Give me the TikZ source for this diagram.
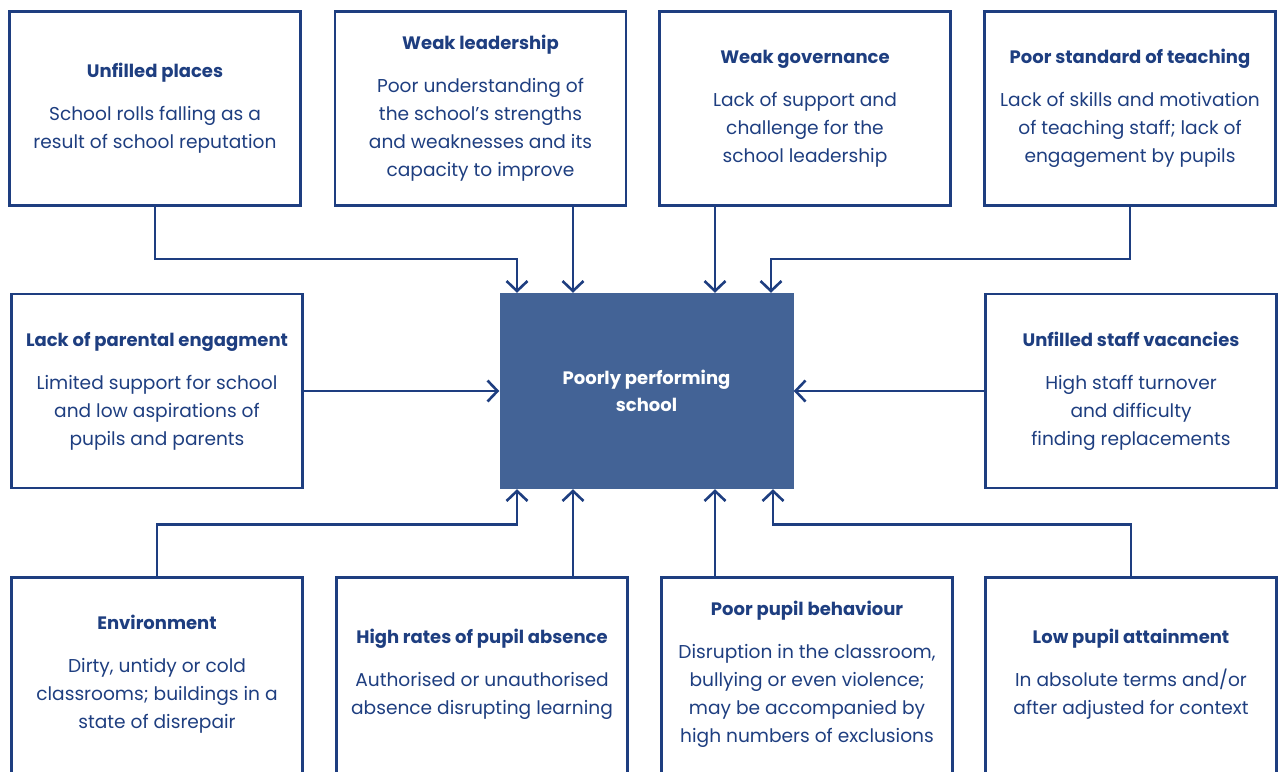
\documentclass[tikz,border=0pt]{standalone}
\usepackage{fontspec}
\setmainfont{Poppins}
\usetikzlibrary{arrows.meta,positioning}
\definecolor{navy}{RGB}{30,62,128}
\definecolor{steel}{RGB}{67,99,150}

\tikzset{
  cause/.style={draw=navy, line width=2.6pt, minimum width=291pt, minimum height=194pt,
    inner sep=0pt, align=center, text=navy, font=\fontsize{18.6}{28}\selectfont},
  % bottom row: boxes run on past the lower edge
  opencause/.style={cause, minimum height=214pt, text depth=25pt},
  core/.style={fill=steel, minimum width=294pt, minimum height=196pt, inner sep=0pt,
    align=center, text=white, font=\bfseries\fontsize{18}{27}\selectfont},
  link/.style={draw=navy, line width=2.6pt, -{Straight Barb[length=10pt,width=21pt]}},
}
\newcommand{\cause}[2]{{\bfseries\fontsize{18}{28}\selectfont #1}\\[15pt]#2}

\begin{document}
\begin{tikzpicture}[x=1pt,y=-1pt]
\useasboundingbox (0,0) rectangle (1279,771);
%% top row
\node (unfilled) at (155,108.5) [cause] {\cause{Unfilled places}{School rolls falling as a\\result of school reputation}};
\node (leadership) at (480.5,108.5) [cause] {\cause{Weak leadership}{Poor understanding of\\the school’s strengths\\and weaknesses and its\\capacity to improve}};
\node (governance) at (805,108.5) [cause] {\cause{Weak governance}{Lack of support and\\challenge for the\\school leadership}};
\node (teaching) at (1130,108.5) [cause] {\cause{Poor standard of teaching}{Lack of skills and motivation\\of teaching staff; lack of\\engagement by pupils}};
%% middle row
\node (parental) at (157,391) [cause] {\cause{Lack of parental engagment}{Limited support for school\\and low aspirations of\\pupils and parents}};
\node (school) at (646.5,391) [core] {Poorly performing\\school};
\node (vacancies) at (1131,391) [cause] {\cause{Unfilled staff vacancies}{High staff turnover\\and difficulty\\finding replacements}};
%% bottom row
\node (environment) at (157,684.5) [opencause] {\cause{Environment}{Dirty, untidy or cold\\classrooms; buildings in a\\state of disrepair}};
\node (absence) at (482,684.5) [opencause] {\cause{High rates of pupil absence}{Authorised or unauthorised\\absence disrupting learning}};
\node (behaviour) at (807,684.5) [opencause] {\cause{Poor pupil behaviour}{Disruption in the classroom,\\bullying or even violence;\\may be accompanied by\\high numbers of exclusions}};
\node (attainment) at (1131,684.5) [opencause] {\cause{Low pupil attainment}{In absolute terms and/or\\after adjusted for context}};
%
\draw [link] (unfilled.south) -- ++(0,52) -| ([xshift=-129.5pt]school.north);
\draw [link] ([xshift=-73.5pt]school.north |- leadership.south) -- ([xshift=-73.5pt]school.north);
\draw [link] ([xshift=68.5pt]school.north |- governance.south) -- ([xshift=68.5pt]school.north);
\draw [link] (teaching.south) -- ++(0,52) -| ([xshift=124.5pt]school.north);
\draw [link] (parental) -- (school);
\draw [link] (vacancies) -- (school);
\draw [link] (environment.north) -- ++(0,-52) -| ([xshift=-129.5pt]school.south);
\draw [link] ([xshift=-73.5pt]school.south |- absence.north) -- ([xshift=-73.5pt]school.south);
\draw [link] ([xshift=68.5pt]school.south |- behaviour.north) -- ([xshift=68.5pt]school.south);
\draw [link] (attainment.north) -- ++(0,-52) -| ([xshift=126.5pt]school.south);
%
\end{tikzpicture}
\end{document}
